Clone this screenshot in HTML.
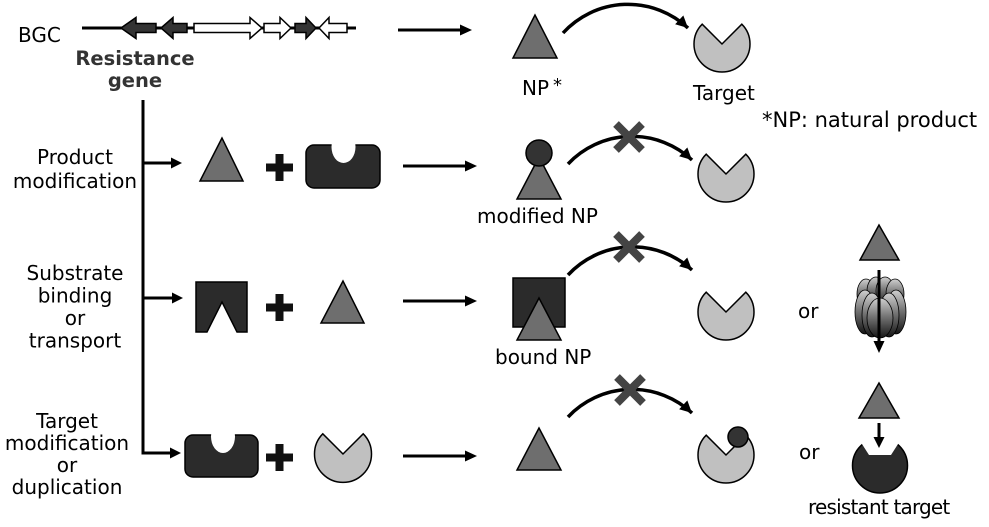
<!DOCTYPE html>
<html>
<head>
<meta charset="utf-8">
<style>
  html,body{margin:0;padding:0;background:#fff;}
  svg{display:block;}
  text{font-family:"DejaVu Sans","Liberation Sans",sans-serif;fill:#000;}
</style>
</head>
<body>
<svg width="989" height="527" viewBox="0 0 989 527" xmlns="http://www.w3.org/2000/svg">
  <defs>
    <marker id="ah" markerUnits="userSpaceOnUse" markerWidth="14" markerHeight="14" refX="12" refY="6" orient="auto">
      <path d="M0,0 L12,6 L0,12 z" fill="#000"/>
    </marker>
    <linearGradient id="bg" x1="0" y1="0" x2="0" y2="1">
      <stop offset="0" stop-color="#d0d0d0"/>
      <stop offset="0.45" stop-color="#777"/>
      <stop offset="1" stop-color="#151515"/>
    </linearGradient>
  </defs>
  <rect width="989" height="527" fill="#fff"/>

  <!-- BGC row -->
  <text x="18" y="42" font-size="20">BGC</text>
  <line x1="82" y1="28" x2="356" y2="28" stroke="#000" stroke-width="3"/>
  <g stroke="#000" stroke-width="1.5" stroke-linejoin="miter">
    <polygon points="121,28 136,17.5 136,23.5 156,23.5 156,32.5 136,32.5 136,38.5" fill="#333"/>
    <polygon points="161,28 173,17.5 173,23.5 187,23.5 187,32.5 173,32.5 173,38.5" fill="#333"/>
    <polygon points="194,23.5 250,23.5 250,17.5 262,28 250,38.5 250,32.5 194,32.5" fill="#fff"/>
    <polygon points="264,23.5 280,23.5 280,17.5 291,28 280,38.5 280,32.5 264,32.5" fill="#fff"/>
    <polygon points="295,23.5 306,23.5 306,17.5 316,28 306,38.5 306,32.5 295,32.5" fill="#333"/>
    <polygon points="319,28 329,17.5 329,23.5 347,23.5 347,32.5 329,32.5 329,38.5" fill="#fff"/>
  </g>
  <text x="135" y="65" font-size="19.5" font-weight="bold" text-anchor="middle" style="fill:#333">Resistance</text>
  <text x="135" y="87" font-size="19.5" font-weight="bold" text-anchor="middle" style="fill:#333">gene</text>

  <!-- top arrow -->
  <line x1="398" y1="30" x2="462" y2="30" stroke="#000" stroke-width="3"/>
  <polygon points="472,30 460,24.5 460,35.5" fill="#000"/>
  <!-- NP -->
  <polygon points="535,15 513,58 557,58" fill="#6e6e6e" stroke="#000" stroke-width="1.5"/>
  <text x="522" y="95" font-size="20">NP</text>
  <text x="553" y="91" font-size="18">*</text>
  <path d="M563,33 A88,88 0 0,1 688,28" fill="none" stroke="#000" stroke-width="3.5" marker-end="url(#ah)"/>
  <path d="M722,44 L702.2,24.2 A28,28 0 1,0 741.8,24.2 Z" fill="#c0c0c0" stroke="#000" stroke-width="1.5"/>
  <text x="693" y="100" font-size="20">Target</text>
  <text x="762" y="127" font-size="21">*NP: natural product</text>

  <!-- vertical tree -->
  <polyline points="143,100 143,453 172,453" fill="none" stroke="#000" stroke-width="3"/>
  <line x1="143" y1="163" x2="172" y2="163" stroke="#000" stroke-width="3"/>
  <line x1="143" y1="298" x2="173" y2="298" stroke="#000" stroke-width="3"/>
  <polygon points="182,163 171,157.5 171,168.5" fill="#000"/>
  <polygon points="183,298 172,292.5 172,303.5" fill="#000"/>
  <polygon points="181,453 170,447.5 170,458.5" fill="#000"/>

  <!-- left labels -->
  <g font-size="20" text-anchor="middle">
    <text x="75" y="164">Product</text>
    <text x="75" y="188">modification</text>
    <text x="75" y="280">Substrate</text>
    <text x="75" y="302.5">binding</text>
    <text x="75" y="325">or</text>
    <text x="75" y="347.5">transport</text>
    <text x="67" y="428">Target</text>
    <text x="67" y="450">modification</text>
    <text x="67" y="472">or</text>
    <text x="67" y="494">duplication</text>
  </g>

  <!-- Row 1: product modification -->
  <polygon points="222,138 200,181 243,181" fill="#6e6e6e" stroke="#000" stroke-width="1.5"/>
  <g fill="#111">
    <rect x="266" y="163.5" width="27" height="8"/>
    <rect x="275.5" y="154" width="8" height="27"/>
  </g>
  <rect x="306" y="145" width="74" height="43" rx="8" ry="8" fill="#2b2b2b" stroke="#000" stroke-width="1.5"/>
  <ellipse cx="343.5" cy="147" rx="12" ry="16" fill="#fff"/>

  <line x1="403" y1="166" x2="467" y2="166" stroke="#000" stroke-width="3"/>
  <polygon points="477,166 465,160.5 465,171.5" fill="#000"/>
  <polygon points="539,157 517,199 561,199" fill="#6e6e6e" stroke="#000" stroke-width="1.5"/>
  <circle cx="539" cy="153" r="13" fill="#333" stroke="#000" stroke-width="1.5"/>
  <text x="477" y="223" font-size="20">modified NP</text>
  <path d="M568,164 A88,88 0 0,1 692,160" fill="none" stroke="#000" stroke-width="3.5" marker-end="url(#ah)"/>
  <g stroke="#444" stroke-width="8">
    <line x1="616" y1="124" x2="642" y2="150"/>
    <line x1="642" y1="124" x2="616" y2="150"/>
  </g>
  <path d="M726,174 L706.2,154.2 A28,28 0 1,0 745.8,154.2 Z" fill="#c0c0c0" stroke="#000" stroke-width="1.5"/>

  <!-- Row 2: substrate binding -->
  <polygon points="196,282 247,282 247,332 237,332 222,302 207,332 196,332" fill="#2b2b2b" stroke="#000" stroke-width="1.5"/>
  <g fill="#111">
    <rect x="266" y="303.5" width="27" height="8"/>
    <rect x="275.5" y="294" width="8" height="27"/>
  </g>
  <polygon points="343,281 321,323 364,323" fill="#6e6e6e" stroke="#000" stroke-width="1.5"/>

  <line x1="403" y1="301" x2="467" y2="301" stroke="#000" stroke-width="3"/>
  <polygon points="477,301 465,295.5 465,306.5" fill="#000"/>
  <rect x="513" y="278" width="52" height="49" fill="#2b2b2b" stroke="#000" stroke-width="1.5"/>
  <polygon points="539,298 517,340 561,340" fill="#6e6e6e" stroke="#000" stroke-width="1.5"/>
  <text x="495" y="364" font-size="20">bound NP</text>
  <path d="M568,275 A88,88 0 0,1 692,270" fill="none" stroke="#000" stroke-width="3.5" marker-end="url(#ah)"/>
  <g stroke="#444" stroke-width="8">
    <line x1="616" y1="234" x2="642" y2="260"/>
    <line x1="642" y1="234" x2="616" y2="260"/>
  </g>
  <path d="M726,312 L706.2,292.2 A28,28 0 1,0 745.8,292.2 Z" fill="#c0c0c0" stroke="#000" stroke-width="1.5"/>

  <text x="798" y="318" font-size="20">or</text>
  <polygon points="879,225 860,260 899,260" fill="#6e6e6e" stroke="#000" stroke-width="1.5"/>
  <!-- barrel transporter -->
  <g stroke="#000" stroke-width="0.8" fill="url(#bg)">
    <ellipse cx="866" cy="294" rx="9" ry="15"/>
    <ellipse cx="876" cy="291" rx="9" ry="14"/>
    <ellipse cx="885" cy="291" rx="9" ry="14"/>
    <ellipse cx="895" cy="294" rx="9" ry="15"/>
    <ellipse cx="865" cy="312" rx="10" ry="22"/>
    <ellipse cx="896" cy="312" rx="10" ry="22"/>
    <ellipse cx="872" cy="315" rx="10" ry="22"/>
    <ellipse cx="889" cy="315" rx="10" ry="22"/>
    <ellipse cx="880" cy="318" rx="13" ry="20"/>
  </g>
  <line x1="879" y1="270" x2="879" y2="343" stroke="#000" stroke-width="3"/>
  <polygon points="879,353 873.5,341 884.5,341" fill="#000"/>

  <!-- Row 3: target modification -->
  <rect x="185" y="435" width="73" height="42" rx="8" ry="8" fill="#2b2b2b" stroke="#000" stroke-width="1.5"/>
  <ellipse cx="223" cy="436.5" rx="12" ry="16.5" fill="#fff"/>
  <g fill="#111">
    <rect x="266" y="453.5" width="27" height="8"/>
    <rect x="275.5" y="444" width="8" height="27"/>
  </g>
  <path d="M343,454 L322.8,433.8 A28.5,28.5 0 1,0 363.2,433.8 Z" fill="#c0c0c0" stroke="#000" stroke-width="1.5"/>

  <line x1="403" y1="456" x2="467" y2="456" stroke="#000" stroke-width="3"/>
  <polygon points="477,456 465,450.5 465,461.5" fill="#000"/>
  <polygon points="539,428 517,470 561,470" fill="#6e6e6e" stroke="#000" stroke-width="1.5"/>
  <path d="M568,417 A88,88 0 0,1 692,413" fill="none" stroke="#000" stroke-width="3.5" marker-end="url(#ah)"/>
  <g stroke="#444" stroke-width="8">
    <line x1="617" y1="377" x2="643" y2="403"/>
    <line x1="643" y1="377" x2="617" y2="403"/>
  </g>
  <path d="M726,455 L706.2,435.2 A28,28 0 1,0 745.8,435.2 Z" fill="#c0c0c0" stroke="#000" stroke-width="1.5"/>
  <circle cx="738" cy="437" r="10" fill="#333" stroke="#000" stroke-width="1.5"/>

  <text x="799" y="459" font-size="20">or</text>
  <polygon points="879,383 859,418 899,418" fill="#6e6e6e" stroke="#000" stroke-width="1.5"/>
  <circle cx="880" cy="465.5" r="27.5" fill="#2b2b2b" stroke="#000" stroke-width="1.5"/>
  <polygon points="853,430 869,455 891,455 907,430" fill="#fff"/>
  <line x1="879" y1="423" x2="879" y2="439" stroke="#000" stroke-width="3"/>
  <polygon points="879,448 873.5,437 884.5,437" fill="#000"/>
  <text x="808" y="514" font-size="20" letter-spacing="-0.8">resistant target</text>
</svg>
</body>
</html>
